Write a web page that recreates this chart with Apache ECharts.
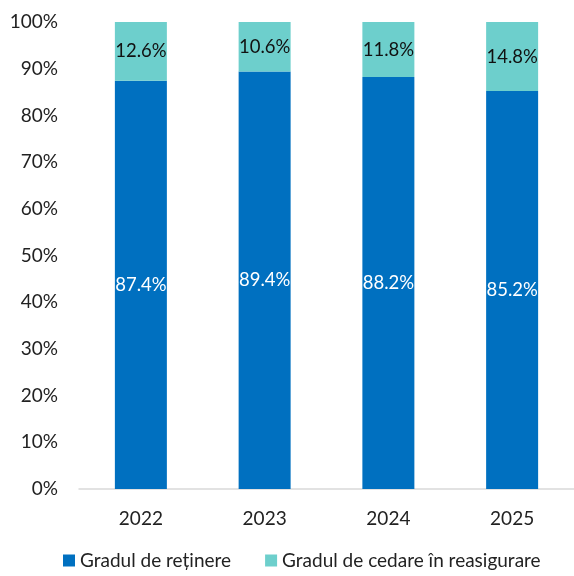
<!DOCTYPE html>
<html>
<head>
<meta charset="utf-8">
<script src="https://cdn.jsdelivr.net/npm/echarts@6/dist/echarts.min.js"></script>
<style>
  html, body { margin: 0; padding: 0; background: #fff; }
  #chart { width: 574px; height: 576px; }
</style>
</head>
<body>
<div id="chart"></div>
<script>
// data
const years = ['2022', '2023', '2024', '2025'];
const retinere = [87.4, 89.4, 88.2, 85.2];
const cedare = [12.6, 10.6, 11.8, 14.8];
const seriesNames = ['Gradul de reținere', 'Gradul de cedare în reasigurare'];

const fontFamily = 'Lato, "Noto Sans", sans-serif';
const blue = '#0070C0';
const teal = '#6DCFCC';

const chart = echarts.init(document.getElementById('chart'));
chart.setOption({
    animation: false,
    textStyle: { fontFamily: fontFamily },
    grid: { left: 79, top: 22, width: 504, height: 467 },
    legend: {
        bottom: 1,
        left: 58,
        itemWidth: 12,
        itemHeight: 12,
        itemGap: 34,
        icon: 'rect',
        textStyle: { fontSize: 19, color: '#222', fontFamily: fontFamily }
    },
    xAxis: {
        type: 'category',
        data: years,
        axisLine: { lineStyle: { color: '#d9d9d9', width: 1.5 } },
        axisTick: { show: false },
        axisLabel: { fontSize: 19, color: '#222', margin: 20, fontFamily: fontFamily }
    },
    yAxis: {
        type: 'value',
        min: 0,
        max: 100,
        interval: 10,
        splitLine: { show: false },
        axisLine: { show: false },
        axisTick: { show: false },
        axisLabel: {
            fontSize: 19, color: '#222', margin: 21, fontFamily: fontFamily,
            formatter: v => v + '%'
        }
    },
    series: [
        {
            name: seriesNames[0],
            type: 'bar',
            stack: 'total',
            barWidth: 52,
            data: retinere,
            itemStyle: { color: blue },
            label: {
                show: true, position: 'inside', color: '#fff', fontSize: 18.5,
                fontFamily: fontFamily, formatter: p => p.value.toFixed(1) + '%'
            }
        },
        {
            name: seriesNames[1],
            type: 'bar',
            stack: 'total',
            barWidth: 52,
            data: cedare,
            itemStyle: { color: teal },
            label: {
                show: true, position: 'inside', color: '#111', fontSize: 18.5,
                fontFamily: fontFamily, formatter: p => p.value.toFixed(1) + '%'
            }
        }
    ]
});
</script>
</body>
</html>
